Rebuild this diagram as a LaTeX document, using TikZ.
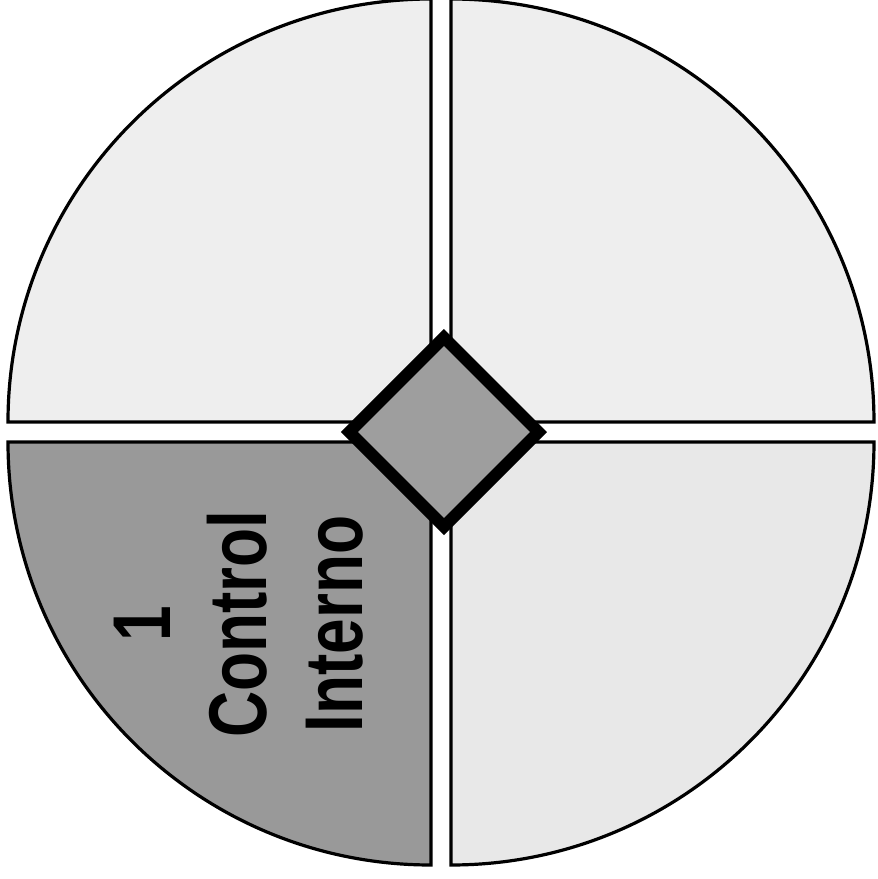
\documentclass[tikz,border=0pt]{standalone}
\usepackage{fontspec}
\setsansfont{Liberation Sans}
\newfontfamily\quadfont[FakeStretch=0.78]{Liberation Sans}
\usetikzlibrary{shapes.geometric, positioning}
\definecolor{paleQuad}{HTML}{EEEEEE}
\definecolor{paleQuadLow}{HTML}{E8E8E8}
\definecolor{darkQuad}{HTML}{999999}
\definecolor{hubColor}{HTML}{9E9E9E}

\begin{document}
\begin{tikzpicture}[x=1pt, y=1pt,
    quad/.style={draw=black, line width=3.2pt, line join=miter},
    hubbox/.style={diamond, aspect=1, draw=black, line width=12pt, fill=hubColor, minimum width=194pt, minimum height=194pt, inner sep=0pt},
    quadtext/.style={rotate=90, align=center, font=\quadfont\bfseries\fontsize{82}{96}\selectfont}]
    % Canvas
    \useasboundingbox[fill=white] (-441,-447) rectangle (437,432);

    % Quadrants
    \filldraw[quad, fill=paleQuad] (-10,10) -- (-10,433) arc (90:180:423) -- cycle;
    \filldraw[quad, fill=paleQuad] (10,10) -- (433,10) arc (0:90:423) -- cycle;
    \filldraw[quad, fill=darkQuad] (-10,-10) -- (-433,-10) arc (180:270:423) -- cycle;
    \filldraw[quad, fill=paleQuadLow] (10,-10) -- (10,-433) arc (270:360:423) -- cycle;

    % Centre diamond
    \node[hubbox] (hub) at (3,0) {};

    % Label
    \node[quadtext] (ciLabel) at (-202,-192) {1\\Control\\Interno};
\end{tikzpicture}
\end{document}
